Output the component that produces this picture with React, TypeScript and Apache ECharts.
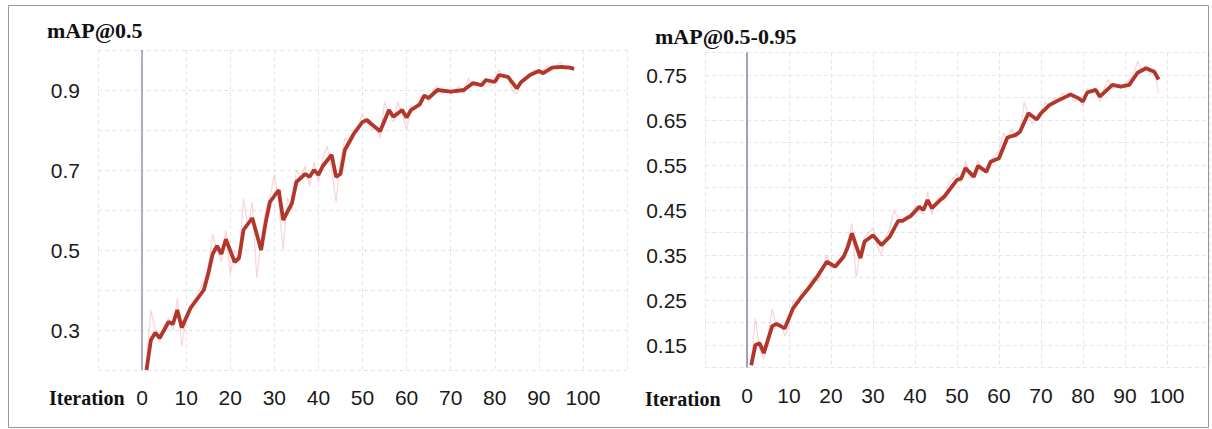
import React, { useEffect, useRef } from "react";
import * as echarts from "echarts";

// ---- data ----
const leftSmoothX = [1, 2, 3, 4, 6, 7, 8, 9, 11, 14, 15, 16, 17, 18, 19, 21, 22, 23, 25, 27, 28, 29, 31, 32, 34, 35, 37, 38, 39, 40, 41, 43, 44, 45, 46, 48, 50, 51, 52, 54, 56, 57, 59, 60, 61, 63, 64, 65, 67, 70, 73, 75, 77, 78, 80, 81, 83, 85, 86, 88, 90, 91, 93, 95, 97, 98];
const leftSmoothY = [0.2, 0.275, 0.293, 0.28, 0.32, 0.315, 0.35, 0.306, 0.355, 0.4, 0.44, 0.49, 0.51, 0.49, 0.527, 0.47, 0.48, 0.55, 0.58, 0.5, 0.567, 0.62, 0.65, 0.575, 0.617, 0.67, 0.69, 0.683, 0.7, 0.688, 0.71, 0.738, 0.683, 0.69, 0.75, 0.79, 0.82, 0.825, 0.815, 0.797, 0.85, 0.833, 0.85, 0.831, 0.85, 0.864, 0.886, 0.88, 0.9, 0.896, 0.9, 0.917, 0.912, 0.925, 0.92, 0.9375, 0.933, 0.904, 0.92, 0.9375, 0.9475, 0.942, 0.956, 0.958, 0.956, 0.953];
const leftRawY = [0.22, 0.35, 0.30, 0.27, 0.31, 0.33, 0.30, 0.38, 0.26, 0.33, 0.36, 0.38, 0.40, 0.42, 0.46, 0.54, 0.50, 0.47, 0.55, 0.44, 0.50, 0.47, 0.63, 0.56, 0.62, 0.43, 0.52, 0.60, 0.63, 0.69, 0.62, 0.50, 0.63, 0.60, 0.70, 0.68, 0.71, 0.66, 0.72, 0.67, 0.73, 0.76, 0.70, 0.62, 0.72, 0.78, 0.77, 0.80, 0.81, 0.84, 0.82, 0.80, 0.81, 0.78, 0.87, 0.84, 0.82, 0.87, 0.84, 0.80, 0.86, 0.85, 0.88, 0.89, 0.87, 0.90, 0.91, 0.89, 0.90, 0.89, 0.90, 0.91, 0.89, 0.93, 0.91, 0.92, 0.91, 0.93, 0.91, 0.93, 0.95, 0.93, 0.93, 0.90, 0.89, 0.92, 0.93, 0.94, 0.95, 0.94, 0.95, 0.96, 0.95, 0.96, 0.97, 0.95, 0.96, 0.95];

const rightSmoothX = [1, 2, 3, 4, 6, 7, 9, 11, 13, 15, 17, 19, 21, 23, 24, 25, 27, 28, 30, 32, 34, 36, 37, 39, 41, 42, 43, 44, 46, 47, 50, 51, 52, 54, 55, 57, 58, 60, 62, 64, 65, 67, 69, 70, 72, 74, 76, 77, 79, 80, 81, 83, 84, 87, 89, 91, 93, 95, 97, 98];
const rightSmoothY = [0.105, 0.15, 0.154, 0.132, 0.192, 0.197, 0.187, 0.232, 0.257, 0.28, 0.306, 0.335, 0.324, 0.346, 0.368, 0.398, 0.343, 0.38, 0.394, 0.372, 0.391, 0.426, 0.426, 0.437, 0.457, 0.45, 0.472, 0.454, 0.472, 0.48, 0.517, 0.52, 0.543, 0.524, 0.548, 0.535, 0.557, 0.565, 0.611, 0.617, 0.624, 0.665, 0.651, 0.665, 0.683, 0.693, 0.702, 0.707, 0.698, 0.691, 0.711, 0.717, 0.702, 0.728, 0.724, 0.728, 0.755, 0.765, 0.757, 0.74];
const rightRawY = [0.11, 0.21, 0.14, 0.12, 0.17, 0.23, 0.19, 0.20, 0.17, 0.19, 0.25, 0.24, 0.27, 0.27, 0.29, 0.30, 0.29, 0.32, 0.35, 0.32, 0.33, 0.34, 0.35, 0.38, 0.42, 0.30, 0.36, 0.39, 0.40, 0.41, 0.37, 0.35, 0.39, 0.41, 0.45, 0.43, 0.42, 0.44, 0.43, 0.46, 0.45, 0.44, 0.49, 0.44, 0.47, 0.48, 0.47, 0.51, 0.52, 0.53, 0.51, 0.56, 0.52, 0.53, 0.56, 0.54, 0.53, 0.56, 0.57, 0.58, 0.62, 0.61, 0.63, 0.61, 0.62, 0.69, 0.66, 0.64, 0.66, 0.67, 0.69, 0.68, 0.70, 0.69, 0.71, 0.70, 0.71, 0.69, 0.70, 0.68, 0.72, 0.71, 0.72, 0.69, 0.72, 0.74, 0.72, 0.73, 0.72, 0.73, 0.74, 0.75, 0.78, 0.76, 0.77, 0.75, 0.76, 0.71];

const leftTitle = "mAP@0.5";
const rightTitle = "mAP@0.5-0.95";
const xName = "Iteration";

const zip = (xs: number[], ys: number[]) => xs.map((x, i) => [x, ys[i]]);
const rawPairs = (ys: number[]) => ys.map((y, i) => [i + 1, y]);

const LINE = "#b1372c";
const RAW = "#f5b0b4";
const GRID = "#e3e5ec";
const AXIS_FONT = "'Liberation Sans', Arial, sans-serif";
const SERIF = "'Liberation Serif', 'Times New Roman', serif";

export default function App() {
  const ref = useRef<HTMLDivElement>(null);
  useEffect(() => {
    const chart = echarts.init(ref.current!, null, { renderer: "svg" });
    const xAxisBase = (gridIndex: number) => ({
      type: "value",
      gridIndex,
      min: -10,
      max: 110,
      interval: 10,
      axisLine: { show: false },
      axisTick: { show: false },
      splitLine: { show: true, lineStyle: { color: GRID, type: [4, 3], width: 1 } },
      axisLabel: {
        margin: 17,
        fontSize: 21,
        fontFamily: AXIS_FONT,
        color: "#1a1a1a",
        formatter: (v: number) => (v < 0 || v > 100 ? "" : String(v)),
      },
    });
    const markZero = (color: string) => ({
      silent: true,
      symbol: "none",
      label: { show: false },
      lineStyle: { color, type: "solid", width: 1.5 },
      data: [{ xAxis: 0 }],
    });
    chart.setOption({
      animation: false,
      backgroundColor: "#ffffff",
      title: [
        { text: leftTitle, left: 47, top: 19, padding: 0, textStyle: { fontFamily: SERIF, fontWeight: "bold", fontSize: 22, color: "#111" } },
        { text: rightTitle, left: 655, top: 25, padding: 0, textStyle: { fontFamily: SERIF, fontWeight: "bold", fontSize: 22, color: "#111" } },
      ],
      grid: [
        { left: 98, right: 585, top: 50, bottom: 59 },
        { left: 705, right: 2, top: 52.5, bottom: 61.5 },
      ],
      xAxis: [xAxisBase(0), xAxisBase(1)],
      yAxis: [
        {
          type: "value",
          gridIndex: 0,
          min: 0.2,
          max: 1.0,
          interval: 0.1,
          axisLine: { show: false },
          axisTick: { show: false },
          splitLine: { show: true, lineStyle: { color: GRID, type: [4, 3], width: 1 } },
          axisLabel: {
            margin: 18,
            fontSize: 21,
            fontFamily: AXIS_FONT,
            color: "#1a1a1a",
            formatter: (v: number) => {
              const k = Math.round(v * 10);
              return k % 2 === 1 && k < 10 ? (k / 10).toFixed(1) : "";
            },
          },
        },
        {
          type: "value",
          gridIndex: 1,
          min: 0.1,
          max: 0.8,
          interval: 0.05,
          axisLine: { show: false },
          axisTick: { show: false },
          splitLine: { show: true, lineStyle: { color: GRID, type: [4, 3], width: 1 } },
          axisLabel: {
            margin: 18,
            fontSize: 21,
            fontFamily: AXIS_FONT,
            color: "#1a1a1a",
            formatter: (v: number) => {
              const k = Math.round(v * 100);
              return k % 10 === 5 ? (k / 100).toFixed(2) : "";
            },
          },
        },
      ],
      series: [
        {
          type: "line",
          xAxisIndex: 0,
          yAxisIndex: 0,
          data: rawPairs(leftRawY),
          showSymbol: false,
          lineStyle: { color: RAW, width: 1.2, opacity: 0.55 },
          markLine: markZero("#9c93ab"),
          z: 1,
        },
        {
          type: "line",
          xAxisIndex: 0,
          yAxisIndex: 0,
          data: zip(leftSmoothX, leftSmoothY),
          showSymbol: false,
          lineStyle: { color: LINE, width: 3.8 },
          z: 3,
        },
        {
          type: "line",
          xAxisIndex: 1,
          yAxisIndex: 1,
          data: rawPairs(rightRawY),
          showSymbol: false,
          lineStyle: { color: RAW, width: 1.2, opacity: 0.55 },
          markLine: markZero("#7f86a6"),
          z: 1,
        },
        {
          type: "line",
          xAxisIndex: 1,
          yAxisIndex: 1,
          data: zip(rightSmoothX, rightSmoothY),
          showSymbol: false,
          lineStyle: { color: LINE, width: 3.8 },
          z: 3,
        },
      ],
      graphic: [
        {
          type: "rect",
          shape: { x: 8.5, y: 5.5, width: 1200, height: 422 },
          style: { fill: "none", stroke: "#9496a2", lineWidth: 1 },
          silent: true,
          z: -1,
        },
        {
          type: "text",
          x: 49,
          y: 398,
          style: { text: xName, fontFamily: SERIF, fontWeight: "bold", fontSize: 20, fill: "#111", verticalAlign: "middle" },
        },
        {
          type: "text",
          x: 645,
          y: 399,
          style: { text: xName, fontFamily: SERIF, fontWeight: "bold", fontSize: 20, fill: "#111", verticalAlign: "middle" },
        },
      ],
    });
    return () => chart.dispose();
  }, []);
  return (
    <div
      ref={ref}
      style={{ position: "fixed", left: 0, top: 0, width: 1212, height: 429, background: "#fff" }}
    />
  );
}
